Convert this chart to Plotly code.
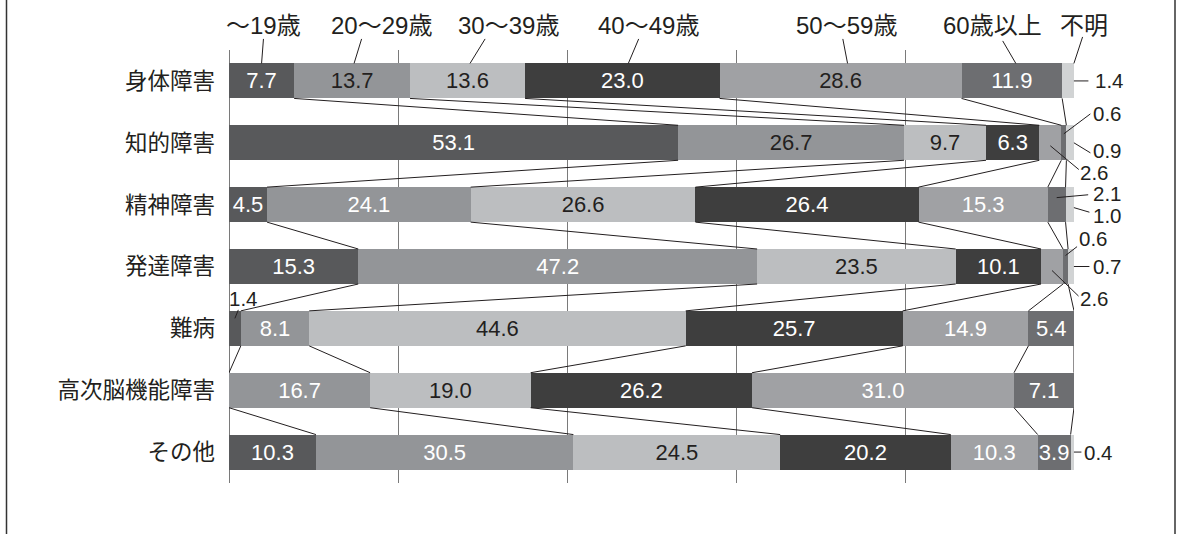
import plotly.graph_objects as go
import numpy as np

# ---------------- data ----------------
categories = ["身体障害", "知的障害", "精神障害", "発達障害", "難病", "高次脳機能障害", "その他"]
age_groups = ["～19歳", "20～29歳", "30～39歳", "40～49歳", "50～59歳", "60歳以上", "不明"]

under19   = [7.7, 53.1, 4.5, 15.3, 1.4, 0.0, 10.3]
age20s    = [13.7, 26.7, 24.1, 47.2, 8.1, 16.7, 30.5]
age30s    = [13.6, 9.7, 26.6, 23.5, 44.6, 19.0, 24.5]
age40s    = [23.0, 6.3, 26.4, 10.1, 25.7, 26.2, 20.2]
age50s    = [28.6, 2.6, 15.3, 2.6, 14.9, 31.0, 10.3]
age60plus = [11.9, 0.6, 2.1, 0.6, 5.4, 7.1, 3.9]
unknown   = [1.4, 0.9, 1.0, 0.7, 0.0, 0.0, 0.4]

series_values = [under19, age20s, age30s, age40s, age50s, age60plus, unknown]

# ---------------- style ----------------
colors = ["#58595b", "#939598", "#bcbec0", "#3e3e3e", "#a0a1a4", "#6d6e71", "#d1d3d4"]
DARK = "#231f20"
WHITE = "#ffffff"
NUM_FONT = "Liberation Sans, Arial, Noto Sans CJK JP, sans-serif"
JP_FONT = "Liberation Sans, Noto Sans CJK JP, sans-serif"
CAT_FONT = "Noto Sans CJK JP, sans-serif"

W, H = 1178, 534
M_L, M_R, M_T, M_B = 229, 104, 50, 51
PLOT_W = W - M_L - M_R
PLOT_H = H - M_T - M_B
N = len(categories)
PX_X = PLOT_W / 100.0
PX_Y = PLOT_H / N
BAR_W = 35 / PX_Y
INSIDE_MIN = 3.0
X_MAX_VIS = 99.99   # keep annotation anchors inside the axis range

vals = np.array(series_values, dtype=float)       # (series, rows)
norm = vals / vals.sum(axis=0) * 100.0
cum = np.cumsum(norm, axis=0)
start = cum - norm
mid = start + norm / 2

rows = list(range(N))

fig = go.Figure()

for s, (name, v) in enumerate(zip(age_groups, series_values)):
    texts = [f"{x:.1f}" if x >= INSIDE_MIN else "" for x in v]
    if s in (0, 3, 5):
        tcol = [WHITE] * N
    elif s in (2, 6):
        tcol = [DARK] * N
    else:
        tcol = [DARK if r < 2 else WHITE for r in rows]
    fig.add_trace(go.Bar(
        y=rows, x=v, orientation="h", name=name,
        width=BAR_W,
        marker=dict(color=colors[s], line=dict(width=0)),
        text=texts, textposition="inside", insidetextanchor="middle",
        textangle=0, constraintext="none",
        textfont=dict(family=NUM_FONT, size=22, color=tcol),
        hoverinfo="skip", showlegend=False,
    ))

# series (connector) lines between consecutive bars
cx, cy = [], []
for k in range(len(series_values) - 1):
    for r in range(N - 1):
        cx += [cum[k, r], cum[k, r + 1], None]
        cy += [r + BAR_W / 2, r + 1 - BAR_W / 2, None]
fig.add_trace(go.Scatter(x=cx, y=cy, mode="lines",
                         line=dict(color=DARK, width=1),
                         hoverinfo="skip", showlegend=False))

annotations = []

def leader(xd, yd, ax, ay):
    annotations.append(dict(x=xd, y=yd, xref="x", yref="y", ax=ax, ay=ay,
                            axref="pixel", ayref="pixel", text="",
                            showarrow=True, arrowhead=0, arrowwidth=1,
                            arrowcolor=DARK, standoff=0, startstandoff=0))

def label(xd, yd, dx, dy, text, font, size):
    annotations.append(dict(x=xd, y=yd, xref="x", yref="y", text=text,
                            showarrow=False, xshift=dx, yshift=-dy,
                            xanchor="center", yanchor="middle", borderpad=0,
                            font=dict(family=font, size=size, color=DARK)))

# top series-name labels: (tip dx px, leader dx, leader dy, text dx, text dy)
top_layout = [
    (0, 2, -26, 2, -38),
    (2, 8, -26, 27, -38),
    (2.5, 16, -26, 38, -38),
    (6, 11, -26, 20, -38),
    (7, -5, -26, -1, -38),
    (4, -14, -24, -23, -38),
    (6, 9, -28, 10, -38),
]
for s, (tdx, lx, ly, tx, ty) in enumerate(top_layout):
    xd = min(mid[s, 0] + tdx / PX_X, X_MAX_VIS)
    shift = (mid[s, 0] + tdx / PX_X - xd) * PX_X
    yd = 0 - BAR_W / 2
    leader(xd, yd, lx + shift, ly)
    label(xd, yd, tx + shift, ty, age_groups[s], JP_FONT, 24)

# small values labelled outside: (row, series, tip, tip dy, leader dx, dy, text dx, dy)
outside_layout = [
    (0, 6, "end", 0, 16, 0, 36, 0),
    (1, 5, "mid", -9, 28, -21, 44, -20),
    (1, 6, "end", 0, 18, 11, 34, 8),
    (1, 4, "mid", 3, 30, 25, 44, 27),
    (2, 5, "mid", -7, 33, -3, 51, -4),
    (2, 6, "end", 3, 17, 5, 34, 8),
    (3, 5, "mid", -11, 13, -10, 28, -17),
    (3, 6, "end", 0, 17, 0, 34, 0),
    (3, 4, "mid", 4, 28, 27, 42, 28),
    (4, 0, "mid", -10, 4, -10, 9, -20),
    (6, 6, "end", 0, 9, 0, 25, 0),
]
for r, s, tip, tdy, lx, ly, tx, ty in outside_layout:
    xd = min(cum[s, r] if tip == "end" else mid[s, r], X_MAX_VIS)
    yd = r + tdy / PX_Y
    leader(xd, yd, lx, ly)
    label(xd, yd, tx, ty, f"{series_values[s][r]:.1f}", NUM_FONT, 20.5)

# outer frame (left and right rules)
shapes = [
    dict(type="line", xref="paper", yref="paper",
         x0=(6.5 - M_L) / PLOT_W, x1=(6.5 - M_L) / PLOT_W,
         y0=-M_B / PLOT_H, y1=1 + M_T / PLOT_H,
         line=dict(color="#333333", width=1.5)),
    dict(type="line", xref="paper", yref="paper",
         x0=(1175 - M_L) / PLOT_W, x1=(1175 - M_L) / PLOT_W,
         y0=-M_B / PLOT_H, y1=1 + M_T / PLOT_H,
         line=dict(color="#333333", width=1.5)),
]

fig.update_layout(
    width=W, height=H,
    margin=dict(l=M_L, r=M_R, t=M_T, b=M_B, pad=0),
    barmode="stack", barnorm="percent",
    paper_bgcolor="white", plot_bgcolor="white",
    showlegend=False,
    annotations=annotations,
    shapes=shapes,
    xaxis=dict(range=[0, 100], dtick=20, tick0=0, showgrid=True,
               gridcolor="#7a7a7a", gridwidth=1,
               zeroline=True, zerolinecolor="#7a7a7a", zerolinewidth=1,
               showticklabels=False, ticks="", showline=False, fixedrange=True),
    yaxis=dict(range=[N - 0.5, -0.5], tickvals=rows, ticktext=categories,
               showgrid=False, zeroline=False, showline=False, ticks="",
               ticklabelstandoff=13,
               tickfont=dict(family=CAT_FONT, size=22.5, color=DARK),
               fixedrange=True),
)

fig.write_html("out.html")
